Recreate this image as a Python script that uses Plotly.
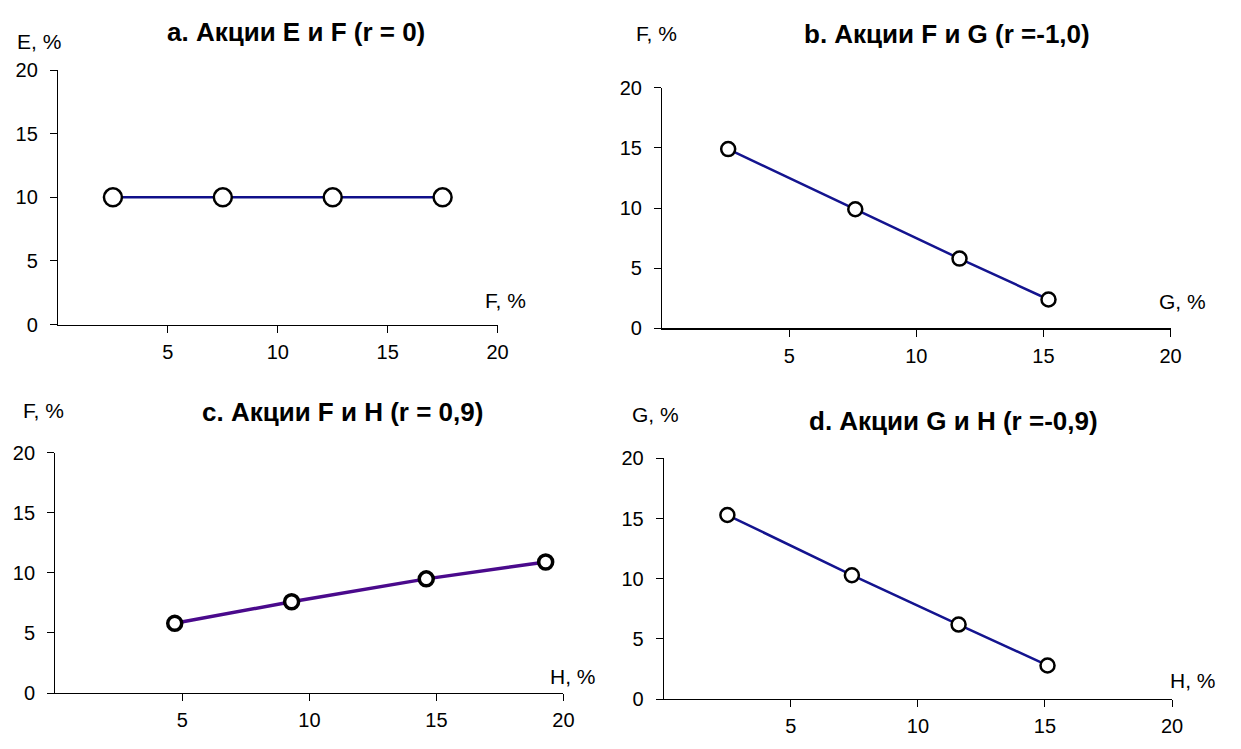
import plotly.graph_objects as go

W, H = 1241, 749

# ---- data ----
a_x = [2.5, 7.5, 12.5, 17.5]
a_y = [10, 10, 10, 10]
b_x = [2.6, 7.6, 11.7, 15.2]
b_y = [14.9, 9.9, 5.8, 2.4]
c_x = [4.7, 9.3, 14.6, 19.3]
c_y = [5.8, 7.6, 9.5, 10.9]
d_x = [2.5, 7.4, 11.6, 15.1]
d_y = [15.3, 10.3, 6.2, 2.8]

x_ticks = [5, 10, 15, 20]
y_ticks = [0, 5, 10, 15, 20]

titles = ["a. Акции E и F (r = 0)", "b. Акции F и G (r =-1,0)",
          "c. Акции F и H (r = 0,9)", "d. Акции G и H (r =-0,9)"]
y_titles = ["E, %", "F, %", "F, %", "G, %"]
x_titles = ["F, %", "G, %", "H, %", "H, %"]

FONT = "Liberation Sans, Arial, sans-serif"

# panel pixel geometry: (x0, x20, y0, y20)
panels = [
    (58.5, 502.0, 323.0, 61.0),
    (668.0, 1181.0, 327.0, 79.0),
    (55.8, 568.5, 702.7, 455.0),
    (669.8, 1182.5, 709.0, 461.0),
]
# title centers, y-title centers, x-title centers (pixels)
title_pos = [(299, 22), (955, 24), (346, 413), (962, 422)]
ytitle_pos = [(39, 31), (662, 23), (44, 412), (661, 416)]
xtitle_pos = [(510, 298), (1193, 299), (578, 686), (1204, 690)]

series = [(a_x, a_y), (b_x, b_y), (c_x, c_y), (d_x, d_y)]
line_colors = ["#10108a", "#14148f", "#4a0a8c", "#14148f"]
line_widths = [2.5, 2.5, 3.5, 2.5]
marker_sizes = [18, 14, 14, 14]
marker_lw = [2.5, 2.5, 3.5, 2.5]

fig = go.Figure()
layout = dict(width=W, height=H, autosize=False,
              margin=dict(l=0, r=0, t=0, b=0),
              paper_bgcolor="white", plot_bgcolor="white",
              showlegend=False, annotations=[])

def px(x):
    return x / W

def py(y):
    return 1 - y / H

for i, ((x0, x20, y0, y20), (xs, ys)) in enumerate(zip(panels, series)):
    n = "" if i == 0 else str(i + 1)
    fig.add_trace(go.Scatter(
        x=xs, y=ys, mode="lines+markers",
        xaxis="x" + n, yaxis="y" + n, cliponaxis=False,
        line=dict(color=line_colors[i], width=line_widths[i]),
        marker=dict(symbol="circle", size=marker_sizes[i], color="white",
                    line=dict(color="black", width=marker_lw[i])),
    ))
    layout["xaxis" + n] = dict(
        domain=[px(x0), px(x20)], range=[0, 20], anchor="y" + n,
        tickvals=x_ticks, ticks="outside", ticklen=7, tickcolor="black",
        showline=True, linecolor="black", linewidth=1.2,
        showgrid=False, zeroline=False, ticklabelstandoff=2,
        tickfont=dict(family=FONT, size=20, color="black"), fixedrange=True)
    layout["yaxis" + n] = dict(
        domain=[py(y0), py(y20)], range=[0, 20], anchor="x" + n,
        tickvals=y_ticks, ticks="outside", ticklen=7, tickcolor="black",
        showline=True, linecolor="black", linewidth=1.2,
        showgrid=False, zeroline=False, ticklabelstandoff=8,
        tickfont=dict(family=FONT, size=20, color="black"), fixedrange=True)

    tx, ty = title_pos[i]
    layout["annotations"].append(dict(
        text="<b>" + titles[i] + "</b>", x=px(tx), y=py(ty), xref="paper", yref="paper",
        xanchor="center", yanchor="middle", showarrow=False,
        font=dict(family=FONT, size=26, color="black")))
    yx, yy = ytitle_pos[i]
    layout["annotations"].append(dict(
        text=y_titles[i], x=px(yx), y=py(yy), xref="paper", yref="paper",
        xanchor="center", yanchor="middle", showarrow=False,
        font=dict(family=FONT, size=21, color="black")))
    xx, xy = xtitle_pos[i]
    layout["annotations"].append(dict(
        text=x_titles[i], x=px(xx), y=py(xy), xref="paper", yref="paper",
        xanchor="center", yanchor="middle", showarrow=False,
        font=dict(family=FONT, size=21, color="black")))

fig.update_layout(**layout)
fig.write_html("out.html",
               config={"displayModeBar": False, "staticPlot": True},
               post_script="document.body.style.margin='0';document.body.style.overflow='hidden';")
